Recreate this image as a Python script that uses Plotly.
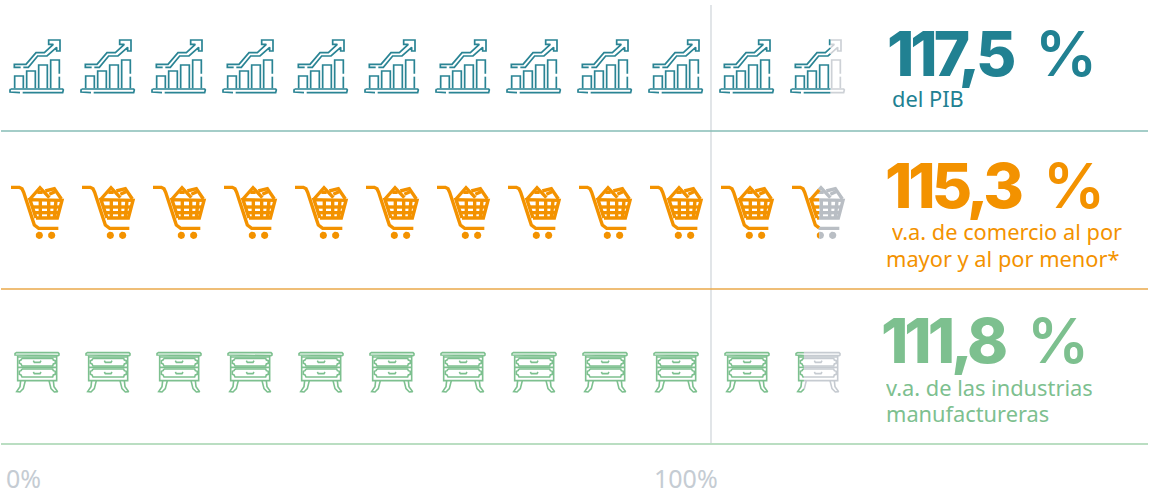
import math
import plotly.graph_objects as go

# ---- data ----
categories = [["del PIB"], ["v.a. de comercio al por", "mayor y al por menor*"], ["v.a. de las industrias", "manufactureras"]]
values = [117.5, 115.3, 111.8]
value_labels = ["117,5", "115,3", "111,8"]
unit_label = "%"
tick_values = [0, 100]
tick_labels = ["0%", "100%"]

W, H = 1154, 488
PX_PER_PCT = 7.1
X0 = 1
UNIT = 10  # percent per icon

def g(points, y0):
    return [(x / 3, y0 + y / 3) for x, y in points]

def arc(cx, cy, r, n=20):
    return [(cx + r * math.cos(2 * math.pi * k / n), cy + r * math.sin(2 * math.pi * k / n)) for k in range(n + 1)]

# --- icon glyphs: measured in the first cell, in pixel units -------
Y = 25
chart_strokes = [g(p, Y) for p in [
    [(32, 192), (188, 192), (190, 195), (190, 201), (188, 203), (68, 203)],
    [(60, 203), (32, 203), (30, 201), (30, 195), (32, 192)],
    [(44, 190), (44, 153), (70, 153), (70, 190)],
    [(80, 190), (80, 138), (106, 138), (106, 190)],
    [(116, 190), (116, 120), (142, 120), (142, 190)],
    [(152, 190), (152, 105), (178, 105), (178, 146)],
    [(178, 155), (178, 190)],
    [(62, 127), (43, 127), (43, 118), (78, 118), (108, 83), (133, 83), (160, 58), (146, 58), (146, 45),
     (180, 45), (180, 78), (170, 78), (170, 67), (141, 93), (113, 93), (85, 127), (70, 127)],
]]
Y = 175
cart_strokes = [g(p, Y) for p in [
    [(33, 37), (58, 37), (66, 41), (71, 52), (98, 135), (103, 150), (116, 160), (175, 160)],
    [(108, 129), (90, 74), (186, 76), (172, 129), (108, 129)],
    [(90, 72), (120, 38), (148, 68)],
    [(112, 52), (128, 52)],
    [(136, 48), (163, 41), (184, 72)],
    [(148, 58), (165, 50)],
    [(96, 96), (182, 96)],
    [(102, 113), (176, 113)],
    [(121, 76), (121, 129)],
    [(146, 76), (146, 129)],
    [(168, 76), (163, 129)],
]]
cart_fills = [g(arc(118, 181, 11), Y), g(arc(155, 181, 11), Y)]
Y = 340
dresser_strokes = [g(p, Y) for p in [
    [(48, 38), (174, 38), (177, 41), (177, 45), (174, 47), (48, 47), (45, 45), (45, 41), (48, 38)],
    [(53, 47), (53, 122), (170, 122), (170, 47)],
    [(53, 51), (170, 51)],
    [(53, 82), (170, 82)],
    [(66, 55), (158, 55), (160, 60), (166, 62), (166, 70), (160, 72), (158, 78), (66, 78), (63, 72), (58, 70), (58, 62), (63, 60), (66, 55)],
    [(66, 87), (158, 87), (160, 92), (166, 94), (166, 103), (160, 105), (158, 111), (66, 111), (63, 105), (58, 103), (58, 94), (63, 92), (66, 87)],
    [(100, 62), (103, 67), (120, 67), (123, 62)],
    [(100, 96), (103, 101), (120, 101), (123, 96)],
    [(62, 122), (60, 140), (50, 155), (60, 156), (70, 146), (76, 122)],
    [(160, 122), (162, 140), (173, 155), (163, 156), (153, 146), (147, 122)],
]]

rows = [
    dict(strokes=chart_strokes, fills=[], width=1.7, color="#2a8494", left=10, right=62.5, gray="#cdd1d6"),
    dict(strokes=cart_strokes, fills=cart_fills, width=3.4, color="#f39200", left=10, right=63, gray="#b9bec4"),
    dict(strokes=dresser_strokes, fills=[], width=1.6, color="#7dc08f", left=15, right=59, gray="#c6cbd1"),
]

def to_pct(px):
    return (px - X0) / PX_PER_PCT

def clip_line(pts, c, keep_left):
    out, cur = [], []
    inside = (lambda p: p[0] <= c) if keep_left else (lambda p: p[0] >= c)
    for a, b in zip(pts, pts[1:]):
        ia, ib = inside(a), inside(b)
        cross = None
        if ia != ib:
            t = (c - a[0]) / (b[0] - a[0])
            cross = (c, a[1] + t * (b[1] - a[1]))
        if ia:
            if not cur:
                cur = [a]
            if ib:
                cur.append(b)
            else:
                cur.append(cross)
                out.append(cur)
                cur = []
        elif ib:
            cur = [cross, b]
    if cur:
        out.append(cur)
    return out

def clip_poly(pts, c, keep_left):
    inside = (lambda p: p[0] <= c) if keep_left else (lambda p: p[0] >= c)
    out = []
    for a, b in zip(pts, pts[1:] + pts[:1]):
        ia, ib = inside(a), inside(b)
        if ia:
            out.append(a)
        if ia != ib:
            t = (c - a[0]) / (b[0] - a[0])
            out.append((c, a[1] + t * (b[1] - a[1])))
    return out

fig = go.Figure()

def collect(bucket, pts, shift):
    for x, y in pts:
        bucket[0].append(to_pct(x) + shift)
        bucket[1].append(y)
    bucket[0].append(None)
    bucket[1].append(None)

for row, value in zip(rows, values):
    n_icons = math.ceil(value / UNIT)
    frac = (value - (n_icons - 1) * UNIT) / UNIT
    col_s, gray_s, col_f, gray_f = ([], []), ([], []), ([], []), ([], [])
    cut = row["left"] + frac * (row["right"] - row["left"])
    for i in range(n_icons):
        shift = i * UNIT
        last = i == n_icons - 1
        for s in row["strokes"]:
            if last:
                for seg in clip_line(s, cut, True):
                    collect(col_s, seg, shift)
                for seg in clip_line(s, cut, False):
                    collect(gray_s, seg, shift)
            else:
                collect(col_s, s, shift)
        for f in row["fills"]:
            if last:
                p = f[:-1]
                l, r = clip_poly(p, cut, True), clip_poly(p, cut, False)
                if l:
                    collect(col_f, l, shift)
                if r:
                    collect(gray_f, r, shift)
            else:
                collect(col_f, f, shift)
    for data, color in ((gray_s, row["gray"]), (col_s, row["color"])):
        if data[0]:
            fig.add_trace(go.Scatter(x=data[0], y=data[1], mode="lines", hoverinfo="skip", showlegend=False,
                                     connectgaps=False, line=dict(color=color, width=row["width"])))
    for data, color in ((gray_f, row["gray"]), (col_f, row["color"])):
        if data[0]:
            fig.add_trace(go.Scatter(x=data[0], y=data[1], mode="lines", fill="toself", fillcolor=color,
                                     hoverinfo="skip", showlegend=False, line=dict(width=0, color=color)))

# rules
pct_right = to_pct(1148)
shapes = [dict(type="line", xref="x", yref="y", x0=100, x1=100, y0=5, y1=443, line=dict(color="#d2d7dc", width=1.3))]
rule_y = [131, 289, 444]
rule_col = ["#86bdb6", "#eaa94a", "#a3d3ae"]
for y, c in zip(rule_y, rule_col):
    shapes.append(dict(type="line", xref="x", yref="y", x0=to_pct(1), x1=pct_right, y0=y, y1=y, line=dict(color=c, width=1.3)))

ann = []
def text(px, py, t, size, color, family="Noto Sans", weight=400, anchor="left", box=None):
    ann.append(dict(x=to_pct(px), y=py, xref="x", yref="y", text=t, showarrow=False, xanchor=anchor, yanchor="middle",
                    align="left", height=box or int(size * 0.95),
                    font=dict(family=family, size=size, color=color, weight=weight)))

big_col = ["#218192", "#f39200", "#7dc08f"]
num_centre = [(959.5, 53), (962, 184.5), (952, 339.5)]
pct_centre = [1065.5, 1074, 1057.5]
sub_x = [[890], [890, 884], [884, 884]]
sub_y = [[98], [231, 258], [387, 413]]
for lab, cat, c, nc, pc, sx, sy in zip(value_labels, categories, big_col, num_centre, pct_centre, sub_x, sub_y):
    text(nc[0], nc[1], lab, 62, c, "Inter", 800, "center", box=70)
    text(pc, nc[1], unit_label, 62, c, "Inter", 600, "center", box=70)
    for line, lx, ly in zip(cat, sx, sy):
        text(lx, ly, line, 21.8, c, box=31)

for tv, tl, px in zip(tick_values, tick_labels, (4, 652)):
    text(px, 478, tl, 25, "#c5ccd3", box=28)

fig.update_layout(
    width=W, height=H, margin=dict(l=0, r=0, t=0, b=0), paper_bgcolor="white", plot_bgcolor="white",
    xaxis=dict(range=[to_pct(0), to_pct(W)], visible=False, fixedrange=True),
    yaxis=dict(range=[H, 0], visible=False, fixedrange=True),
    shapes=shapes, annotations=ann, showlegend=False,
)
post = """
document.body.style.margin='0';document.body.style.overflow='hidden';
document.querySelectorAll('.annotation-text').forEach(function(t){
  if(t.textContent.indexOf(',')>=0){t.style.letterSpacing='-4px';}
});
"""
fig.write_html("out.html", config=dict(displayModeBar=False), post_script=post)
